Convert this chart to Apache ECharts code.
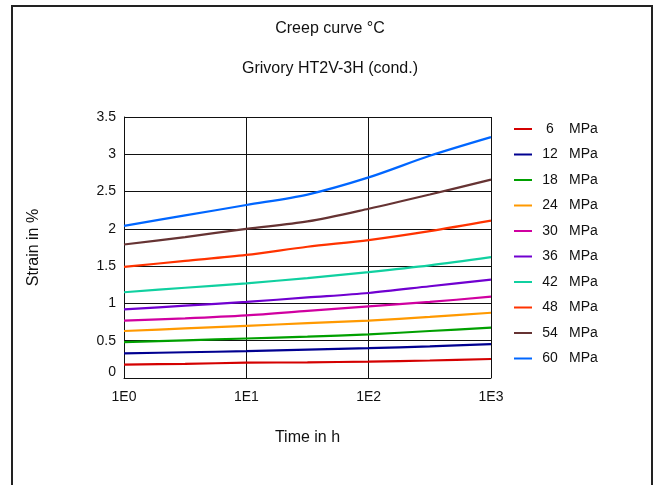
<!DOCTYPE html>
<html><head><meta charset="utf-8">
<script src="https://cdn.jsdelivr.net/npm/echarts@6/dist/echarts.min.js"></script>
<style>html,body{margin:0;padding:0;background:#fff}#c{width:659px;height:485px}</style>
</head><body><div id="c"></div>
<script>
const times = [1, 3.16, 10, 31.6, 100, 316, 1000];
const xTickLabels = ['1E0', '1E1', '1E2', '1E3'];
const stresses = [6, 12, 18, 24, 30, 36, 42, 48, 54, 60];
const s6  = [0.18, 0.19, 0.205, 0.21, 0.22, 0.235, 0.255];
const s12 = [0.33, 0.345, 0.36, 0.38, 0.40, 0.425, 0.455];
const s18 = [0.48, 0.505, 0.53, 0.555, 0.585, 0.63, 0.675];
const s24 = [0.63, 0.665, 0.70, 0.735, 0.77, 0.82, 0.875];
const s30 = [0.77, 0.80, 0.84, 0.90, 0.96, 1.02, 1.09];
const s36 = [0.92, 0.97, 1.02, 1.08, 1.14, 1.23, 1.32];
const s42 = [1.15, 1.21, 1.27, 1.34, 1.42, 1.51, 1.62];
const s48 = [1.49, 1.57, 1.65, 1.76, 1.85, 1.97, 2.11];
const s54 = [1.79, 1.89, 2.00, 2.10, 2.27, 2.46, 2.66];
const s60 = [2.04, 2.18, 2.32, 2.46, 2.69, 2.98, 3.23];
const allSeries = [s6, s12, s18, s24, s30, s36, s42, s48, s54, s60];
const colors = ['#d40000', '#000090', '#00a000', '#ff9900', '#d000a0', '#7000d0', '#10d0a0', '#ff3300', '#663333', '#0066ff'];

const font = 'Liberation Sans, Arial, sans-serif';
const txt = '#111';
const chart = echarts.init(document.getElementById('c'));
chart.setOption({
  backgroundColor: '#fff',
  animation: false,
  title: [
    {text: 'Creep curve °C', left: 325, top: 16, textAlign: 'center',
     textStyle: {fontFamily: font, fontSize: 16, fontWeight: 'normal', color: txt}},
    {text: 'Grivory HT2V-3H (cond.)', left: 325, top: 56, textAlign: 'center',
     textStyle: {fontFamily: font, fontSize: 16, fontWeight: 'normal', color: txt}}
  ],
  graphic: [{type: 'rect', shape: {x: 12, y: 6, width: 640, height: 490},
    style: {fill: 'none', stroke: '#222', lineWidth: 2}, silent: true}],
  grid: {left: 124, right: 168, top: 117, bottom: 107},
  legend: {
    orient: 'vertical', left: 509, top: 117, itemGap: 11.5,
    itemWidth: 18, itemHeight: 2, icon: 'rect',
    data: stresses.map(s => s + ' MPa'),
    formatter: n => '{n|' + n.split(' ')[0] + '}{u|MPa}',
    textStyle: {fontFamily: font, fontSize: 14, color: txt,
      rich: {n: {width: 26, height: 15, align: 'right', fontFamily: font, fontSize: 14, color: txt},
             u: {padding: [0, 0, 0, 6], height: 15, fontFamily: font, fontSize: 14, color: txt}}}
  },
  xAxis: {
    type: 'log', logBase: 10, min: 1, max: 1000,
    name: 'Time in h', nameLocation: 'middle', nameGap: 52,
    nameTextStyle: {fontFamily: font, fontSize: 16, color: txt},
    axisLine: {lineStyle: {color: '#111', width: 1}},
    axisTick: {show: false}, minorTick: {show: false},
    splitLine: {show: true, lineStyle: {color: '#111', width: 1}},
    axisLabel: {fontFamily: font, fontSize: 14, color: txt, margin: 12,
      formatter: v => xTickLabels[Math.round(Math.log10(v))]}
  },
  yAxis: {
    type: 'value', min: 0, max: 3.5, interval: 0.5,
    name: 'Strain in %', nameLocation: 'middle', nameGap: 82, nameRotate: 90,
    nameTextStyle: {fontFamily: font, fontSize: 16, color: txt},
    axisLine: {show: true, lineStyle: {color: '#111', width: 1}},
    axisTick: {show: false},
    splitLine: {show: true, lineStyle: {color: '#111', width: 1}},
    axisLabel: {fontFamily: font, fontSize: 14, color: txt, margin: 8,
      formatter: v => v === 0 ? '{z|0}' : String(v),
      rich: {z: {fontFamily: font, fontSize: 14, color: txt, padding: [0, 0, 12, 0]}}}
  },
  series: allSeries.map((arr, i) => ({
    name: stresses[i] + ' MPa', type: 'line', smooth: 0.3, symbol: 'none',
    color: colors[i], lineStyle: {width: 2.2, color: colors[i]},
    data: times.map((t, j) => [t, arr[j]])
  }))
});
</script></body></html>
